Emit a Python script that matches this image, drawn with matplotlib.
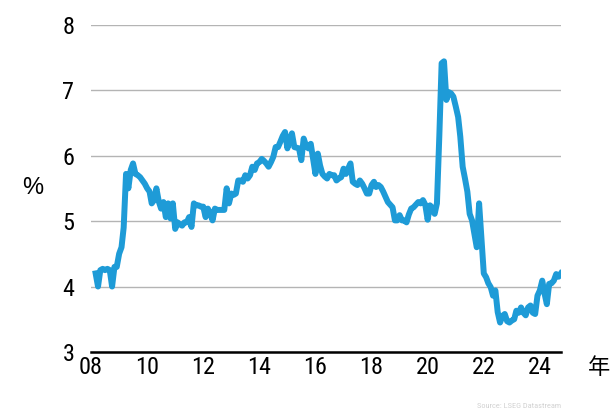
import pandas as pd
import matplotlib.pyplot as plt
from matplotlib import font_manager

# monthly rate (%), Mar 2008 - Oct 2024
rate = [
    4.20, 4.00, 4.25, 4.27, 4.25, 4.27, 4.25, 4.00, 4.30, 4.30, 4.50, 4.60,
    4.90, 5.72, 5.50, 5.78, 5.88, 5.72, 5.70, 5.67, 5.62, 5.57, 5.50, 5.45,
    5.27, 5.32, 5.50, 5.30, 5.19, 5.29, 5.06, 5.27, 5.04, 5.27, 4.88, 4.98,
    4.95, 4.93, 4.98, 4.98, 5.06, 4.91, 5.27, 5.24, 5.24, 5.22, 5.22, 5.06,
    5.19, 5.12, 5.01, 5.19, 5.17, 5.17, 5.17, 5.17, 5.50, 5.27, 5.42, 5.40,
    5.42, 5.62, 5.62, 5.60, 5.70, 5.65, 5.70, 5.83, 5.78, 5.88, 5.90, 5.95,
    5.92, 5.88, 5.83, 5.90, 5.98, 6.13, 6.13, 6.21, 6.30, 6.36, 6.11, 6.25,
    6.34, 6.13, 6.12, 6.11, 5.93, 6.26, 6.15, 6.11, 6.18, 5.95, 5.72, 6.03,
    5.85, 5.72, 5.68, 5.65, 5.72, 5.70, 5.70, 5.62, 5.65, 5.67, 5.80, 5.72,
    5.80, 5.88, 5.60, 5.57, 5.55, 5.62, 5.57, 5.50, 5.42, 5.42, 5.55, 5.60,
    5.52, 5.55, 5.52, 5.45, 5.37, 5.29, 5.25, 5.21, 5.01, 5.01, 5.09, 5.01,
    5.01, 4.98, 5.10, 5.19, 5.21, 5.25, 5.29, 5.27, 5.32, 5.25, 5.02, 5.24,
    5.20, 5.11, 5.27, 6.30, 7.41, 7.44, 6.85, 6.97, 6.95, 6.90, 6.75, 6.59,
    6.29, 5.83, 5.65, 5.45, 5.11, 5.01, 4.80, 4.60, 5.27, 4.75, 4.20, 4.14,
    4.05, 3.99, 3.86, 3.94, 3.61, 3.45, 3.55, 3.58, 3.47, 3.45, 3.48, 3.50,
    3.63, 3.60, 3.68, 3.60, 3.56, 3.68, 3.71, 3.60, 3.58, 3.86, 3.94, 4.09,
    3.90, 3.73, 4.04, 4.05, 4.09, 4.19, 4.15, 4.20,
]
dates = pd.date_range('2008-03-01', periods=len(rate), freq='MS')

year_ticks = [2008, 2010, 2012, 2014, 2016, 2018, 2020, 2022, 2024]
year_labels = ['08', '10', '12', '14', '16', '18', '20', '22', '24']
y_ticks = [3, 4, 5, 6, 7, 8]

# narrow sans for the numbers, like the original
names = {f.name for f in font_manager.fontManager.ttflist}
if 'Roboto Condensed' in names:
    num_font, num_size = 'Roboto Condensed', 17.5
else:
    num_font, num_size = 'Liberation Sans', 15
plt.rcParams['font.family'] = [num_font, 'Noto Sans CJK JP', 'DejaVu Sans']

fig = plt.figure(figsize=(6.13, 4.11), dpi=100)
ax = fig.add_axes([0.1485, 0.1436, 0.7665, 0.7964])

ax.plot(dates, rate, color='#1e9bd7', lw=4.3, solid_joinstyle='round', zorder=3)

ax.set_xlim(dates[0], dates[-1])
ax.set_ylim(3, 8)
ax.set_xticks([pd.Timestamp(f'{y}-01-01') for y in year_ticks])
ax.set_xticklabels(year_labels)
ax.set_yticks(y_ticks)
ax.set_yticklabels([str(v) for v in y_ticks])

ax.grid(axis='y', color='#b4b4b4', lw=1.0)
ax.set_axisbelow(True)
for side in ['left', 'right', 'top']:
    ax.spines[side].set_visible(False)
ax.spines['bottom'].set_linewidth(1.8)
ax.tick_params(axis='x', length=0, pad=3, labelsize=num_size)
ax.tick_params(axis='y', length=0, pad=12, labelsize=num_size)

fig.text(33 / 613, 1 - 188 / 411, '%', fontsize=17, ha='center', va='center',
         family=['Liberation Sans', 'DejaVu Sans'])
fig.text(599 / 613, 1 - 367 / 411, '年', fontsize=16, ha='center', va='center',
         family=['Noto Sans CJK JP', 'DejaVu Sans'])
fig.text(561 / 613, 1 - 406 / 411, 'Source: LSEG Datastream', fontsize=6,
         ha='right', va='center', color='#d2d2d2')

fig.savefig('out.png', dpi=100)
